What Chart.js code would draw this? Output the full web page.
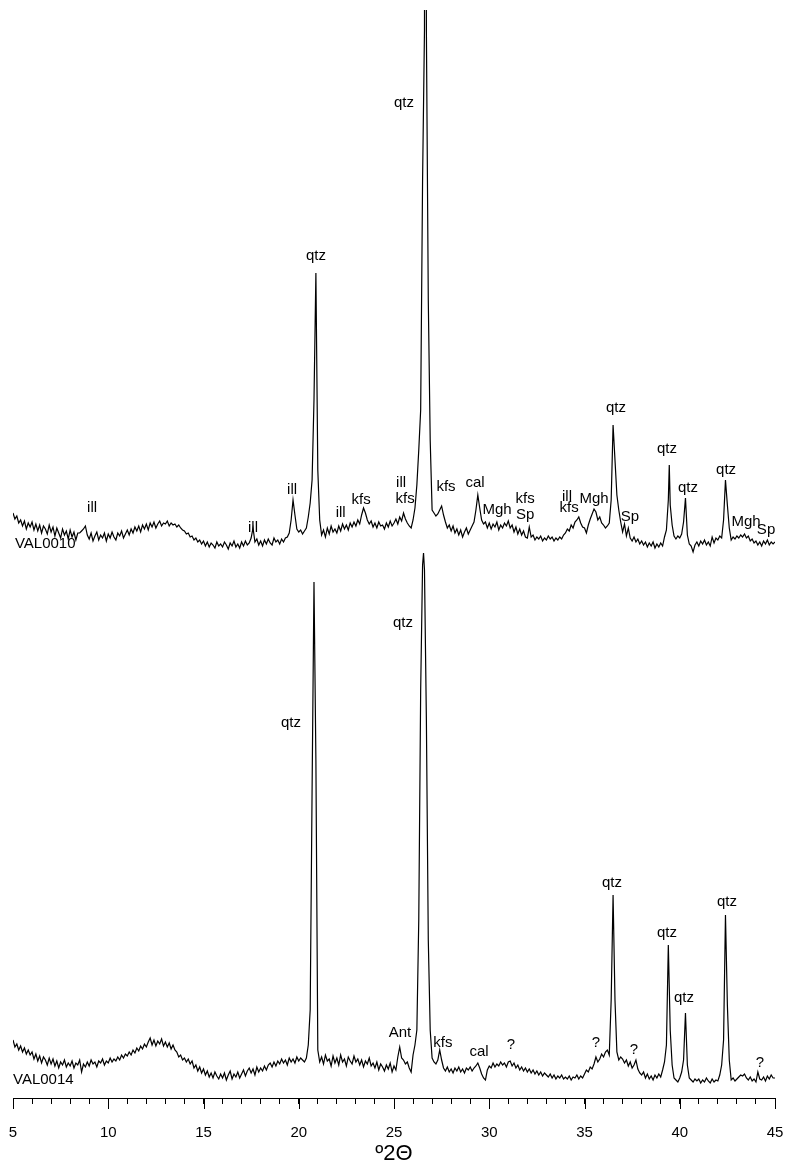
<!DOCTYPE html>
<html>
<head>
<meta charset="utf-8">
<script src="https://cdn.jsdelivr.net/npm/chart.js@4.4.0/dist/chart.umd.min.js"></script>
<style>
  html, body { margin:0; padding:0; background:#fff; }
  canvas { display:block; }
</style>
</head>
<body>
<canvas id="xrd" width="787" height="1169"></canvas>
<script>
// scan grid: 5.0 .. 45.0 °2θ, step 0.1 (one row per degree)
const START = 5.0, STEP = 0.1;

const val0010 = [
  37, 31, 34, 27, 30, 24, 29, 21, 27, 23,   // 5
  28, 20, 26, 19, 25, 17, 24, 21, 16, 25,   // 6
  18, 23, 14, 22, 17, 12, 21, 15, 19, 11,   // 7
  20, 13, 18, 10, 17, 17, 19, 21, 24, 15,   // 8
  11, 17, 9, 14, 18, 10, 15, 12, 17, 9,     // 9
  16, 12, 18, 13, 10, 17, 14, 19, 12, 16,   // 10
  20, 15, 21, 17, 23, 19, 24, 18, 25, 21,   // 11
  26, 20, 27, 23, 28, 22, 26, 29, 24, 27,   // 12
  26, 29, 24, 27, 25, 26, 23, 25, 22, 20,   // 13
  19, 16, 17, 13, 14, 10, 12, 8, 10, 6,     // 14
  9, 4, 8, 3, 7, 5, 2, 8, 4, 6,             // 15
  3, 8, 5, 1, 7, 4, 9, 3, 6, 2,             // 16
  8, 4, 9, 5, 7, 12, 22, 8, 11, 5,          // 17
  9, 4, 10, 6, 11, 7, 5, 12, 8, 10,         // 18
  6, 11, 8, 12, 13, 17, 30, 50, 35, 21,     // 19
  18, 20, 16, 19, 22, 33, 47, 70, 150, 277, // 20
  80, 30, 15, 20, 13, 22, 16, 24, 18, 21,   // 21
  17, 24, 19, 26, 21, 25, 20, 27, 23, 28,   // 22
  24, 30, 26, 35, 42, 37, 30, 26, 29, 23,   // 23
  27, 22, 28, 24, 25, 21, 27, 23, 29, 24,   // 24
  27, 31, 26, 33, 29, 37, 31, 27, 24, 22,   // 25
  30, 42, 65, 100, 140, 370, 520, 520, 250, 110, // 26
  40, 37, 34, 36, 40, 44, 35, 28, 22, 25,   // 27
  19, 24, 17, 21, 15, 20, 13, 18, 22, 16,   // 28
  20, 24, 28, 40, 55, 42, 30, 26, 28, 22,   // 29
  27, 21, 26, 23, 28, 20, 25, 22, 27, 24,   // 30
  29, 22, 25, 18, 23, 16, 21, 15, 19, 13,   // 31
  12, 23, 13, 15, 10, 13, 11, 14, 9, 12,    // 32
  10, 14, 11, 13, 9, 12, 10, 13, 11, 15,    // 33
  17, 21, 19, 25, 22, 28, 30, 33, 27, 23,   // 34
  22, 17, 25, 31, 36, 41, 38, 30, 33, 27,   // 35
  25, 22, 24, 27, 50, 125, 90, 55, 40, 28,  // 36
  18, 26, 14, 22, 12, 9, 13, 8, 11, 6,      // 37
  9, 5, 8, 3, 7, 4, 8, 2, 6, 3,             // 38
  7, 4, 13, 20, 50, 45, 25, 14, 11, 14,     // 39
  12, 16, 28, 52, 15, 6, 4, -2, 5, 8,       // 40
  4, 9, 6, 10, 5, 8, 4, 13, 7, 12,          // 41
  10, 14, 12, 30, 70, 45, 22, 10, 13, 11,   // 42
  14, 12, 15, 13, 16, 12, 14, 9, 11, 7,     // 43
  9, 5, 8, 4, 9, 6, 10, 5, 8, 6,            // 44
  8                                         // 45
];
// peak maxima falling between grid steps
const val0010Apex = [[26.65, 1500], [39.45, 85]];

const val0014 = [
  50, 43, 46, 40, 44, 38, 42, 36, 40, 35,   // 5
  38, 31, 36, 29, 34, 27, 33, 30, 25, 32,   // 6
  26, 31, 24, 29, 22, 28, 25, 30, 23, 27,   // 7
  24, 29, 22, 27, 25, 30, 18, 26, 23, 28,   // 8
  24, 30, 26, 28, 23, 29, 27, 31, 25, 29,   // 9
  27, 32, 28, 31, 29, 33, 30, 35, 32, 36,   // 10
  34, 38, 35, 40, 37, 42, 39, 44, 41, 46,   // 11
  43, 48, 52, 45, 50, 44, 49, 46, 51, 44,   // 12
  48, 43, 47, 41, 45, 40, 38, 33, 35, 30,   // 13
  32, 28, 31, 26, 29, 22, 25, 19, 23, 17,   // 14
  21, 15, 19, 13, 17, 12, 18, 14, 11, 16,   // 15
  12, 17, 10, 15, 19, 11, 16, 13, 18, 12,   // 16
  16, 20, 14, 19, 22, 17, 21, 15, 23, 18,   // 17
  22, 19, 24, 20, 25, 27, 23, 28, 24, 29,   // 18
  26, 31, 27, 30, 25, 32, 28, 31, 27, 33,   // 19
  29, 32, 30, 28, 32, 45, 80, 300, 508, 330, // 20
  40, 28, 33, 26, 35, 29, 31, 24, 34, 27,   // 21
  32, 25, 35, 28, 31, 24, 33, 29, 26, 34,   // 22
  28, 31, 25, 30, 23, 29, 26, 32, 24, 27,   // 23
  22, 28, 20, 26, 23, 19, 25, 21, 27, 18,   // 24
  24, 20, 33, 43, 32, 30, 26, 28, 22, 18,   // 25
  35, 45, 60, 170, 400, 525, 520, 370, 150, 60, // 26
  32, 28, 26, 30, 40, 30, 22, 19, 23, 18,   // 27
  21, 17, 22, 19, 23, 18, 21, 17, 22, 20,   // 28
  23, 19, 22, 24, 27, 22, 16, 12, 10, 20,   // 29
  24, 22, 27, 23, 26, 24, 28, 25, 27, 23,   // 30
  28, 29, 24, 27, 22, 25, 20, 23, 19, 22,   // 31
  18, 21, 17, 20, 16, 19, 15, 18, 14, 17,   // 32
  15, 13, 16, 12, 15, 11, 14, 12, 15, 11,   // 33
  13, 11, 14, 10, 13, 12, 15, 11, 14, 12,   // 34
  16, 20, 18, 23, 21, 26, 33, 28, 31, 36,   // 35
  33, 38, 40, 35, 90, 195, 90, 38, 30, 33,  // 36
  31, 27, 30, 24, 28, 22, 25, 30, 21, 17,   // 37
  15, 18, 12, 16, 11, 14, 10, 15, 12, 16,   // 38
  13, 20, 28, 45, 145, 60, 25, 12, 10, 8,   // 39
  12, 18, 30, 77, 25, 12, 10, 8, 11, 9,     // 40
  11, 7, 10, 8, 12, 9, 7, 11, 8, 10,        // 41
  9, 15, 25, 50, 175, 85, 30, 10, 12, 9,    // 42
  11, 13, 15, 14, 16, 12, 10, 13, 9, 11,    // 43
  8, 18, 11, 10, 13, 9, 14, 11, 15, 12,     // 44
  12                                        // 45
];
const val0014Apex = [[26.55, 537]];

// phase labels: [text, °2θ, height above the pattern's own base]
const labels0010 = [
  ['ill', 9.15, 42], ['ill', 17.6, 22], ['ill', 19.65, 60], ['qtz', 20.9, 294],
  ['ill', 22.2, 37], ['kfs', 23.27, 50], ['qtz', 25.52, 447], ['ill', 25.37, 67],
  ['kfs', 25.58, 51], ['kfs', 27.73, 63], ['cal', 29.25, 67], ['Mgh', 30.41, 40],
  ['kfs', 31.88, 51], ['Sp', 31.88, 35], ['ill', 34.08, 53], ['kfs', 34.19, 42],
  ['Mgh', 35.5, 51], ['qtz', 36.65, 142], ['Sp', 37.39, 33], ['qtz', 39.33, 101],
  ['qtz', 40.43, 62], ['qtz', 42.43, 80], ['Mgh', 43.48, 28], ['Sp', 44.53, 20]
];
const labels0014 = [
  ['qtz', 19.59, 367], ['qtz', 25.47, 467], ['Ant', 25.31, 57], ['kfs', 27.57, 47],
  ['cal', 29.46, 38], ['?', 31.14, 45], ['?', 35.6, 47], ['?', 37.6, 40], ['?', 44.21, 27],
  ['qtz', 36.44, 207], ['qtz', 39.33, 157], ['qtz', 40.22, 92], ['qtz', 42.48, 188]
];
const sampleNames = [['VAL0010', 5.1, 6], ['VAL0014', 5.0, 10]];

const X_TICKS = { min: 5, max: 45, major: 5 };
const OFFSET_0010 = 548, OFFSET_0014 = 8;   // vertical stacking of the two patterns
const FONT = "'Liberation Sans', Arial, sans-serif";

function toPoints(counts, apex, shift) {
  const pts = counts.map((c, i) => ({ x: Math.round((START + i * STEP) * 100) / 100, y: c + shift }));
  apex.forEach(([x, c]) => pts.push({ x, y: c + shift }));
  return pts.sort((a, b) => a.x - b.x);
}

const phaseLabels = {
  id: 'phaseLabels',
  afterDatasetsDraw(chart) {
    const { ctx, scales: { x, y } } = chart;
    ctx.save();
    ctx.fillStyle = '#000';
    ctx.font = '15px ' + FONT;
    ctx.textBaseline = 'middle';
    ctx.textAlign = 'center';
    labels0010.forEach(([t, a, h]) => ctx.fillText(t, x.getPixelForValue(a), y.getPixelForValue(h + OFFSET_0010)));
    labels0014.forEach(([t, a, h]) => ctx.fillText(t, x.getPixelForValue(a), y.getPixelForValue(h + OFFSET_0014)));
    ctx.textAlign = 'left';
    const offs = [OFFSET_0010, OFFSET_0014];
    sampleNames.forEach(([t, a, h], i) => ctx.fillText(t, x.getPixelForValue(a), y.getPixelForValue(h + offs[i])));
    ctx.restore();
  }
};

// longer tick marks every 5 degrees
const majorTicks = {
  id: 'majorTicks',
  afterDraw(chart) {
    const { ctx, chartArea, scales: { x } } = chart;
    ctx.save();
    ctx.strokeStyle = '#000';
    ctx.lineWidth = 1;
    ctx.beginPath();
    for (let v = X_TICKS.min; v <= X_TICKS.max; v += X_TICKS.major) {
      const px = Math.round(x.getPixelForValue(v)) + 0.5;
      ctx.moveTo(px, chartArea.bottom);
      ctx.lineTo(px, chartArea.bottom + 11);
    }
    ctx.stroke();
    ctx.restore();
  }
};

Chart.defaults.font.family = FONT;
Chart.defaults.color = '#000';

new Chart(document.getElementById('xrd'), {
  type: 'line',
  data: {
    datasets: [
      { label: 'VAL0010', data: toPoints(val0010, val0010Apex, OFFSET_0010), borderColor: '#000', borderWidth: 1.2, pointRadius: 0, tension: 0, fill: false },
      { label: 'VAL0014', data: toPoints(val0014, val0014Apex, OFFSET_0014), borderColor: '#000', borderWidth: 1.2, pointRadius: 0, tension: 0, fill: false }
    ]
  },
  options: {
    responsive: false, animation: false, devicePixelRatio: 1,
    layout: { padding: { left: 13, right: 12, top: 10, bottom: 0 } },
    plugins: { legend: { display: false }, tooltip: { enabled: false } },
    scales: {
      x: {
        type: 'linear', min: X_TICKS.min, max: X_TICKS.max,
        border: { display: true, color: '#000', width: 1 },
        grid: { display: true, drawOnChartArea: false, drawTicks: true, tickLength: 6, tickColor: '#000', tickWidth: 1 },
        ticks: { stepSize: 1, autoSkip: false, maxRotation: 0, padding: 20, color: '#000', font: { size: 15 },
                 callback: v => v % X_TICKS.major === 0 ? v : '' },
        title: { display: true, text: 'º2Θ', color: '#000', font: { size: 22 }, padding: { top: 0, bottom: 2 } },
        afterFit: s => { s.height = 71; s.paddingLeft = 0; s.paddingRight = 0; }
      },
      y: { display: false, min: 0, max: 1088 }
    }
  },
  plugins: [phaseLabels, majorTicks]
});
</script>
</body>
</html>
